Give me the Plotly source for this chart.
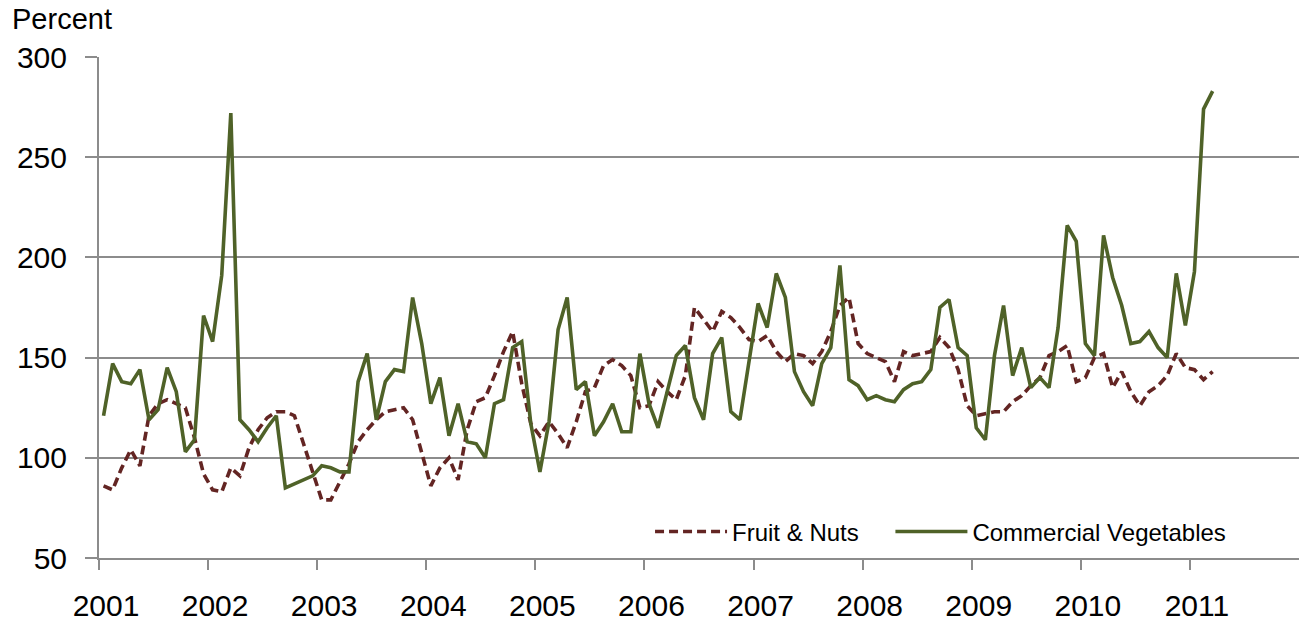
import plotly.graph_objects as go

start_year = 2001
fruit_nuts = [
    86, 84, 95, 104, 96, 121, 127, 129, 127, 125, 110, 92,
    84, 83, 95, 91, 105, 114, 120, 123, 123, 121, 107, 93,
    79, 79, 88, 97, 108, 114, 119, 123, 124, 125, 119, 102,
    86, 95, 100, 89, 114, 128, 130, 141, 153, 163, 137, 117,
    111, 118, 112, 105, 118, 133, 135, 146, 149, 146, 141, 125,
    126, 138, 133, 129, 141, 175, 169, 163, 173, 170, 165, 159,
    158, 161, 153, 148, 152, 151, 147, 153, 163, 176, 180, 157,
    152, 150, 148, 138, 153, 151, 152, 153, 160, 155, 144, 126,
    121, 122, 123, 123, 128, 131, 136, 140, 151, 153, 156, 138,
    140, 150, 152, 135, 143, 133, 126, 133, 136, 141, 152, 145,
    144, 139, 143,
]
commercial_veg = [
    121, 147, 138, 137, 144, 119, 124, 145, 133, 103, 109, 171,
    158, 191, 272, 119, 114, 108, 115, 121, 85, 87, 89, 91,
    96, 95, 93, 93, 138, 152, 119, 138, 144, 143, 180, 157,
    127, 140, 111, 127, 108, 107, 100, 127, 129, 155, 158, 117,
    93, 118, 164, 180, 134, 138, 111, 118, 127, 113, 113, 152,
    127, 115, 133, 151, 156, 130, 119, 152, 160, 123, 119, 148,
    177, 165, 192, 180, 143, 133, 126, 147, 155, 196, 139, 136,
    129, 131, 129, 128, 134, 137, 138, 144, 175, 179, 155, 151,
    115, 109, 151, 176, 141, 155, 135, 140, 135, 165, 216, 208,
    157, 151, 211, 190, 176, 157, 158, 163, 155, 150, 192, 166,
    193, 274, 283,
]
series_names = ["Fruit & Nuts", "Commercial Vegetables"]
year_ticks = list(range(2001, 2012))
y_ticks = [50, 100, 150, 200, 250, 300]

x_vals = [start_year + (i + 0.5) / 12 for i in range(len(commercial_veg))]

FONT = "Liberation Sans, Arial, Helvetica, sans-serif"
GRID = "#8c8c8c"
NBSP = "\u00a0"

fig = go.Figure()
fig.add_trace(go.Scatter(
    x=x_vals, y=fruit_nuts, mode="lines", name=series_names[0] + NBSP * 4,
    line=dict(color="#632523", width=3.6, dash="9px,5px"),
))
fig.add_trace(go.Scatter(
    x=x_vals, y=commercial_veg, mode="lines", name=series_names[1],
    line=dict(color="#4f6228", width=3.6),
))

fig.update_layout(
    width=1299, height=621,
    margin=dict(l=99, r=0, t=57, b=63),
    paper_bgcolor="white", plot_bgcolor="white",
    font=dict(family=FONT, color="black", size=30),
    showlegend=True,
    legend=dict(
        orientation="h", x=0.4592, y=0.052, xanchor="left", yanchor="middle",
        font=dict(size=24, family=FONT), bgcolor="rgba(0,0,0,0)",
        itemwidth=72,
    ),
    xaxis=dict(
        range=[2001, 2012], tickvals=year_ticks,
        ticktext=[str(y) for y in year_ticks],
        showgrid=False, zeroline=False,
        showline=True, linecolor=GRID, linewidth=2,
        ticks="outside", ticklen=10, tickwidth=1.5, tickcolor=GRID,
        tickfont=dict(size=30, family=FONT),
        ticklabelshift=7, ticklabelstandoff=10,
    ),
    yaxis=dict(
        range=[50, 300], tickvals=y_ticks,
        showgrid=True, gridcolor=GRID, gridwidth=2,
        zeroline=False, showline=True, linecolor=GRID, linewidth=2,
        ticks="outside", ticklen=12, tickwidth=1.5, tickcolor=GRID,
        tickfont=dict(size=30, family=FONT),
        ticklabelstandoff=12,
    ),
    annotations=[dict(
        text="Percent", xref="paper", yref="paper",
        x=-0.0742, y=1.0, xanchor="left", yanchor="middle", yshift=38,
        showarrow=False, font=dict(size=29, family=FONT),
    )],
)

fig.write_html(
    "out.html",
    config={"displayModeBar": False},
    post_script="document.body.style.margin='0';document.body.style.padding='0';",
)
